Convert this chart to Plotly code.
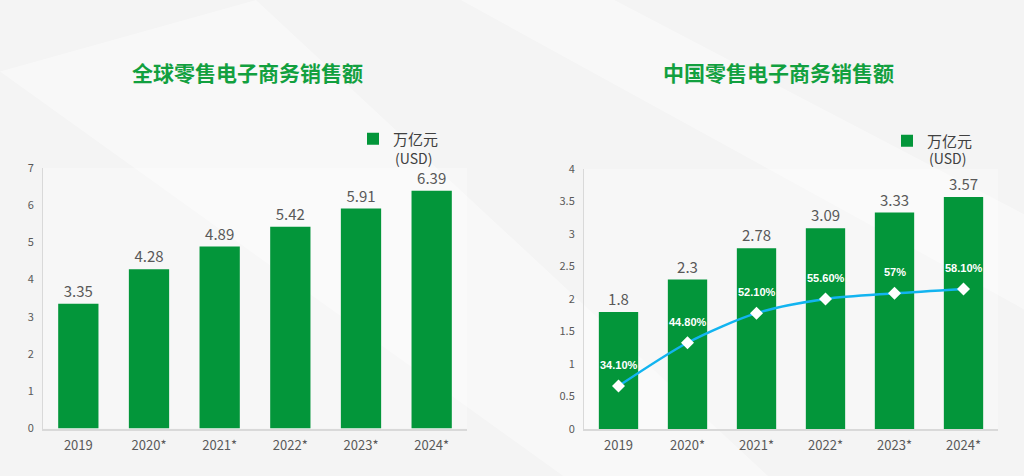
import plotly.graph_objects as go

years = ['2019', '2020*', '2021*', '2022*', '2023*', '2024*']
global_sales = [3.35, 4.28, 4.89, 5.42, 5.91, 6.39]
china_sales = [1.8, 2.3, 2.78, 3.09, 3.33, 3.57]
china_share = [34.1, 44.8, 52.1, 55.6, 57.0, 58.1]
share_labels = ['34.10%', '44.80%', '52.10%', '55.60%', '57%', '58.10%']
left_ticks = [0, 1, 2, 3, 4, 5, 6, 7]
right_ticks = [0, 0.5, 1, 1.5, 2, 2.5, 3, 3.5, 4]
right_ticktext = ['0', '0.5', '1', '1.5', '2', '2.5', '3', '3.5', '4']

GREEN = '#03963a'
TITLE_GREEN = '#12a03f'
GREY = '#595959'
FONT = 'Noto Sans CJK SC, Noto Sans, sans-serif'

fig = go.Figure()

fig.add_trace(go.Bar(
    name='万亿元', x=years, y=global_sales,
    xaxis='x', yaxis='y',
    marker=dict(color=GREEN, line=dict(width=0)),
    width=0.57,
    text=[f'{v:g}' for v in global_sales], textposition='outside',
    textfont=dict(size=15, color=GREY), cliponaxis=False,
    legend='legend'
))
fig.add_trace(go.Bar(
    name='万亿元', x=years, y=china_sales,
    xaxis='x2', yaxis='y2',
    marker=dict(color=GREEN, line=dict(width=0)),
    width=0.57,
    text=[f'{v:g}' for v in china_sales], textposition='outside',
    textfont=dict(size=15, color=GREY), cliponaxis=False,
    legend='legend2'
))
fig.add_trace(go.Scatter(
    x=years, y=china_share,
    xaxis='x2', yaxis='y3',
    mode='lines+markers',
    line=dict(color='#12b4f0', width=2.5, shape='spline', smoothing=0.8),
    marker=dict(symbol='diamond', size=10, color='white'),
    showlegend=False
))

annotations = []
# category positions by index so numeric-looking names are not read as numbers
for i, (v, lab) in enumerate(zip(china_share, share_labels)):
    annotations.append(dict(
        x=i, y=v, xref='x2', yref='y3', text=f'<b>{lab}</b>',
        showarrow=False, yshift=21,
        font=dict(size=11, color='white', family='Liberation Sans, Arial, sans-serif')
    ))
for xpos in [393 / 1024, 927 / 1024]:
    annotations.append(dict(
        x=xpos, y=1 - 158 / 476, xref='paper', yref='paper', xanchor='left', yanchor='middle',
        text='(USD)', showarrow=False, font=dict(size=14, color='#404040', family=FONT)
    ))
annotations.append(dict(
    x=247 / 1024, y=1 - 72 / 476, xref='paper', yref='paper', showarrow=False,
    xanchor='center', yanchor='middle',
    text='<b>全球零售电子商务销售额</b>', font=dict(size=21, color=TITLE_GREEN, family=FONT)
))
annotations.append(dict(
    x=778 / 1024, y=1 - 72 / 476, xref='paper', yref='paper', showarrow=False,
    xanchor='center', yanchor='middle',
    text='<b>中国零售电子商务销售额</b>', font=dict(size=21, color=TITLE_GREEN, family=FONT)
))

# soft diagonal light streaks in the background
shapes = [
    dict(type='path', xref='paper', yref='paper', layer='below',
         path='M 0,0.85 L 0.25,1 L 0.75,0 L 0.55,0 Z',
         fillcolor='white', opacity=0.4, line=dict(width=0)),
    dict(type='path', xref='paper', yref='paper', layer='below',
         path='M 0.45,1 L 0.6,1 L 1,0.55 L 1,0.35 Z',
         fillcolor='white', opacity=0.4, line=dict(width=0)),
]

axis_common = dict(
    showgrid=False, zeroline=False, showline=True, linecolor='#d9d9d9', linewidth=1,
    ticks='', tickfont=dict(size=11, color=GREY, family=FONT),
    ticklabelstandoff=6, automargin=False,
)
xaxis_common = dict(
    showgrid=False, zeroline=False, showline=True, linecolor='#d9d9d9', linewidth=1.5,
    ticks='', tickfont=dict(size=13, color=GREY, family=FONT), type='category',
    ticklabelstandoff=4, automargin=False,
)

fig.update_layout(
    width=1024, height=476,
    margin=dict(l=0, r=0, t=0, b=0, autoexpand=False),
    paper_bgcolor='#f4f4f4', plot_bgcolor='rgba(255,255,255,0.3)',
    font=dict(family=FONT, color=GREY),
    bargap=0.43,
    xaxis=dict(domain=[43 / 1024, 467 / 1024], anchor='y', **xaxis_common),
    yaxis=dict(domain=[(476 - 428.5) / 476, (476 - 168) / 476], anchor='x',
               range=[0, 7], tickvals=left_ticks, **axis_common),
    xaxis2=dict(domain=[584 / 1024, 998 / 1024], anchor='y2', **xaxis_common),
    yaxis2=dict(domain=[(476 - 429) / 476, (476 - 169) / 476], anchor='x2',
                range=[0, 4], tickvals=right_ticks, ticktext=right_ticktext, **axis_common),
    yaxis3=dict(overlaying='y2', anchor='x2', side='right', range=[23.5, 87.7],
                visible=False, automargin=False),
    legend=dict(x=353 / 1024, y=1 - 139 / 476, xanchor='left', yanchor='middle',
                bgcolor='rgba(0,0,0,0)', font=dict(size=15, color='#404040', family=FONT)),
    legend2=dict(x=887 / 1024, y=1 - 141 / 476, xanchor='left', yanchor='middle',
                 bgcolor='rgba(0,0,0,0)', font=dict(size=15, color='#404040', family=FONT)),
    annotations=annotations,
    shapes=shapes,
)

fig.write_html('out.html', config={'displayModeBar': False},
               post_script="document.body.style.margin='0';")
